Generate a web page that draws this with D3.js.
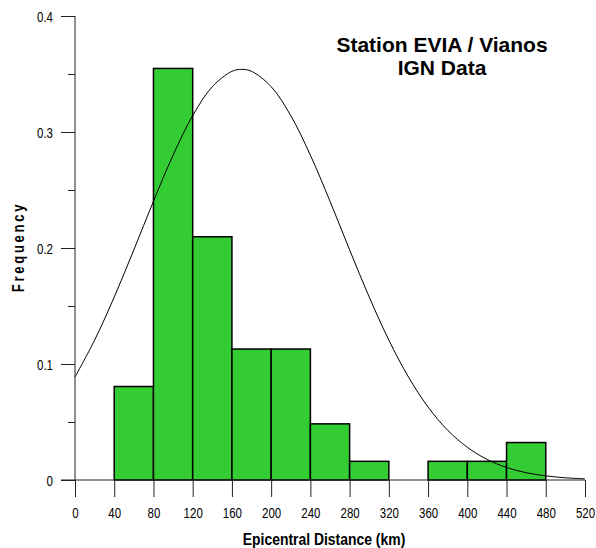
<!DOCTYPE html>
<html>
<head>
<meta charset="utf-8">
<script src="https://cdn.jsdelivr.net/npm/d3@7"></script>
<style>
  html, body { margin: 0; padding: 0; background: #fff; }
  svg { display: block; }
  text { font-family: "Liberation Sans", Arial, sans-serif; fill: #000; }
</style>
</head>
<body>
<svg id="chart" width="596" height="548"></svg>
<script>
// ---- data ----
const binLow  = [40, 80, 120, 160, 200, 240, 280, 320, 360, 400, 440];
const binHigh = [80, 120, 160, 200, 240, 280, 320, 360, 400, 440, 480];
const frequency = [0.0806, 0.3548, 0.2097, 0.1129, 0.1129, 0.0484, 0.0161, 0, 0.0161, 0.0161, 0.0323];

const curveDist = [0, 20, 40, 60, 80, 100, 120, 140, 160, 170, 180, 200, 220, 240, 260, 280, 300, 320, 340, 360, 380, 400, 420, 440, 460, 480, 500, 520];
const curveFreq = [0.0888, 0.1206, 0.1577, 0.1984, 0.2403, 0.2800, 0.3141, 0.3391, 0.3523, 0.3540, 0.3523, 0.3391, 0.3141, 0.2800, 0.2403, 0.1984, 0.1577, 0.1206, 0.0888, 0.0629, 0.0429, 0.0282, 0.0178, 0.0108, 0.0063, 0.0036, 0.0019, 0.0010];

const xTicks = [0, 40, 80, 120, 160, 200, 240, 280, 320, 360, 400, 440, 480, 520];
const yTicks = [0, 0.1, 0.2, 0.3, 0.4];
const yTickLabels = ["0", "0.1", "0.2", "0.3", "0.4"];
const yMinorTicks = [0.05, 0.15, 0.25, 0.35];

const titleLines = ["Station EVIA / Vianos", "IGN Data"];
const xTitle = "Epicentral Distance (km)";
const yTitle = "Frequency";

// ---- layout ----
const svg = d3.select("#chart");
const x = d3.scaleLinear().domain([0, 520]).range([75, 585]);
const y = d3.scaleLinear().domain([0, 0.4]).range([480, 16]);
const narrow = 0.82;
const axisColor = "#222";

// bars
const bins = binLow.map((lo, i) => ({lo, hi: binHigh[i], v: frequency[i]})).filter(d => d.v > 0);
svg.append("g").selectAll("rect").data(bins).join("rect")
  .attr("x", d => x(d.lo))
  .attr("y", d => y(d.v))
  .attr("width", d => x(d.hi) - x(d.lo))
  .attr("height", d => y(0) - y(d.v))
  .attr("fill", "#33cc33")
  .attr("stroke", "#000")
  .attr("stroke-width", 1.5);

// x axis
const xAxis = svg.append("g").attr("transform", `translate(0,${y(0)})`)
  .call(d3.axisBottom(x).tickValues(xTicks).tickSize(17).tickSizeOuter(0).tickFormat(d3.format("d")));
xAxis.select(".domain").remove();
xAxis.selectAll(".tick line").attr("stroke", axisColor);
xAxis.selectAll(".tick text")
  .attr("y", 38).attr("dy", 0)
  .attr("font-size", 14)
  .attr("font-family", "Liberation Sans, Arial, sans-serif")
  .attr("transform", `scale(${narrow},1)`);
svg.append("line")
  .attr("x1", 61).attr("x2", x(520))
  .attr("y1", y(0)).attr("y2", y(0))
  .attr("stroke", axisColor);

// y axis
const yAxis = svg.append("g").attr("transform", `translate(${x(0)},0)`)
  .call(d3.axisLeft(y).tickValues(yTicks).tickSize(14).tickSizeOuter(0)
    .tickFormat((d, i) => yTickLabels[i]));
yAxis.select(".domain").remove();
yAxis.selectAll(".tick line").attr("stroke", axisColor);
yAxis.selectAll(".tick text")
  .attr("x", -22 / narrow).attr("dy", "0.36em")
  .attr("font-size", 14)
  .attr("font-family", "Liberation Sans, Arial, sans-serif")
  .attr("transform", `scale(${narrow},1)`);
const yMinor = svg.append("g").attr("transform", `translate(${x(0)},0)`)
  .call(d3.axisLeft(y).tickValues(yMinorTicks).tickSize(7).tickFormat(""));
yMinor.select(".domain").remove();
yMinor.selectAll(".tick line").attr("stroke", axisColor);
svg.append("line")
  .attr("x1", x(0)).attr("x2", x(0))
  .attr("y1", y(0.4)).attr("y2", y(0))
  .attr("stroke", axisColor);

// fitted curve
const line = d3.line()
  .x((d, i) => x(curveDist[i]))
  .y(d => y(d))
  .curve(d3.curveCatmullRom);
svg.append("path")
  .attr("d", line(curveFreq))
  .attr("fill", "none")
  .attr("stroke", "#000")
  .attr("stroke-width", 1);

// titles
svg.append("g").selectAll("text").data(titleLines).join("text")
  .attr("x", 442)
  .attr("y", (d, i) => 52 + i * 23)
  .attr("text-anchor", "middle")
  .attr("font-size", 21)
  .attr("font-weight", "bold")
  .text(d => d);

svg.append("text")
  .attr("transform", `translate(324,545) scale(${narrow},1)`)
  .attr("text-anchor", "middle")
  .attr("font-size", 17)
  .attr("font-weight", "bold")
  .text(xTitle);

svg.append("text")
  .attr("transform", `translate(24,247) rotate(-90) scale(${narrow},1)`)
  .attr("text-anchor", "middle")
  .attr("font-size", 16)
  .attr("font-weight", "bold")
  .attr("letter-spacing", 3.3)
  .text(yTitle);
</script>
</body>
</html>
